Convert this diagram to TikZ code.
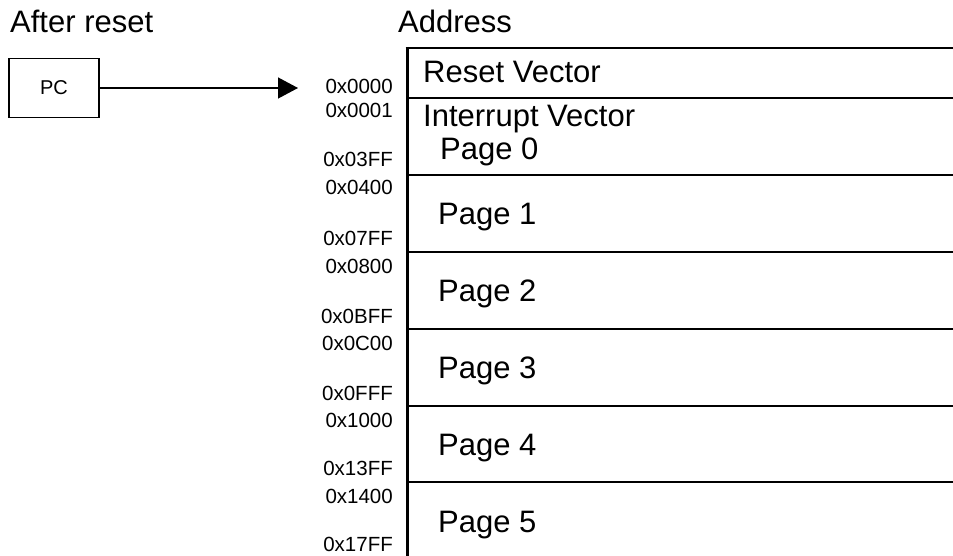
\documentclass[tikz,border=0pt]{standalone}
\usepackage{fontspec}
\setmainfont{Liberation Sans}
\usetikzlibrary{arrows.meta,positioning}

\begin{document}
\begin{tikzpicture}[
  x=1pt, y=-1pt,
  every node/.style={inner sep=0pt},
  bigtext/.style={font=\fontsize{31}{36}\selectfont, anchor=base west},
  addr/.style={font=\fontsize{20.5}{24}\selectfont, anchor=base east},
  regbox/.style={
    rectangle,
    draw=black,
    line width=1.3pt,
    minimum width=90pt,
    minimum height=59pt,
    font=\fontsize{20}{24}\selectfont
  },
  memline/.style={line width=2.4pt},
  arrow/.style={-{Triangle[length=20pt, width=21pt]}, line width=1.3pt}
]
\useasboundingbox (0,0) rectangle (953,556);

\node[bigtext] (after) at (10,33) {After reset};
\node[bigtext] (addrtitle) at (398,33) {Address};

\node[regbox] (pc) at (54,88) {PC};
\coordinate (entry) at (298,88);
\draw[arrow] (pc) -- (entry);

% memory map
\draw[line width=3pt] (407,46.8) -- (407,556);
\draw[memline] (405.5,48) -- (953,48);
\draw[memline] (407,98) -- (953,98);
\draw[memline] (407,175) -- (953,175);
\draw[memline] (407,252) -- (953,252);
\draw[memline] (407,329) -- (953,329);
\draw[memline] (407,406) -- (953,406);
\draw[memline] (407,482) -- (953,482);

\node[bigtext] (resetvec) at (423,83) {Reset Vector};
\node[bigtext] (intvec) at (423,127) {Interrupt Vector};
\node[bigtext] (page0) at (440,160) {Page 0};
\node[bigtext] (page1) at (438,225) {Page 1};
\node[bigtext] (page2) at (438,301) {Page 2};
\node[bigtext] (page3) at (438,378) {Page 3};
\node[bigtext] (page4) at (438,455) {Page 4};
\node[bigtext] (page5) at (438,532) {Page 5};

% addresses
\node[addr] (a0000) at (393,93.5) {0x0000};
\node[addr] (a0001) at (393,118) {0x0001};
\node[addr] (a03ff) at (393,166.5) {0x03FF};
\node[addr] (a0400) at (393,195) {0x0400};
\node[addr] (a07ff) at (393,246) {0x07FF};
\node[addr] (a0800) at (393,273) {0x0800};
\node[addr] (a0bff) at (393,323) {0x0BFF};
\node[addr] (a0c00) at (393,350) {0x0C00};
\node[addr] (a0fff) at (393,400) {0x0FFF};
\node[addr] (a1000) at (393,427) {0x1000};
\node[addr] (a13ff) at (393,475) {0x13FF};
\node[addr] (a1400) at (393,503) {0x1400};
\node[addr] (a17ff) at (393,551) {0x17FF};
\end{tikzpicture}
\end{document}
